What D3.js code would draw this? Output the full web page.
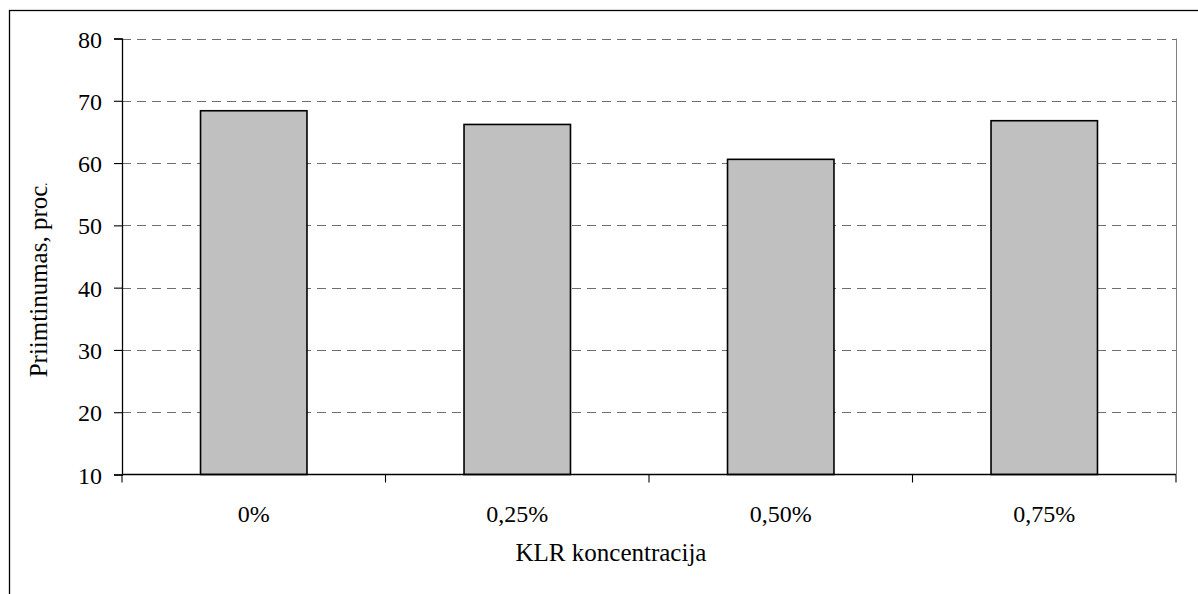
<!DOCTYPE html>
<html>
<head>
<meta charset="utf-8">
<script src="https://cdn.jsdelivr.net/npm/d3@7/dist/d3.min.js"></script>
<style>
  html, body { margin: 0; padding: 0; background: #fff; }
  svg { display: block; }
  text { font-family: "Liberation Serif", "Times New Roman", serif; fill: #000; }
</style>
</head>
<body>
<svg id="chart" width="1198" height="594"></svg>
<script>
// Acceptability by KLR concentration
const categories = ["0%", "0,25%", "0,50%", "0,75%"];
const values = [68.4, 66.2, 60.6, 66.8];
const yTicks = [10, 20, 30, 40, 50, 60, 70, 80];
const yTitle = "Priimtinumas, proc";
const xTitle = "KLR koncentracija";

const svg = d3.select("#chart");
const plot = { left: 122, right: 1176, top: 38.5, bottom: 474.5 };

// Outer chart frame
svg.append("rect")
  .attr("x", 9.5).attr("y", 10.5)
  .attr("width", 1300).attr("height", 700)
  .attr("fill", "#fff").attr("stroke", "#000").attr("stroke-width", 1.3);

const x = d3.scaleBand()
  .domain(categories)
  .range([plot.left, plot.right])
  .paddingInner(0.596)
  .paddingOuter(0.298);

const y = d3.scaleLinear()
  .domain([10, 80])
  .range([plot.bottom, plot.top]);

// Dashed horizontal gridlines
svg.append("g")
  .selectAll("line")
  .data(yTicks.filter(d => d > 10))
  .join("line")
  .attr("x1", plot.left).attr("x2", plot.right)
  .attr("y1", d => Math.round(y(d)) + 0.5).attr("y2", d => Math.round(y(d)) + 0.5)
  .attr("stroke", "#6e6e6e").attr("stroke-width", 1.1)
  .attr("stroke-dasharray", "9,6");

// Right edge of plot area
svg.append("line")
  .attr("x1", plot.right + 0.5).attr("x2", plot.right + 0.5)
  .attr("y1", plot.top).attr("y2", plot.bottom)
  .attr("stroke", "#808080").attr("stroke-width", 1);

// Bars
svg.append("g")
  .selectAll("rect")
  .data(values)
  .join("rect")
  .attr("x", (d, i) => x(categories[i]))
  .attr("y", d => y(d))
  .attr("width", x.bandwidth())
  .attr("height", d => y(10) - y(d))
  .attr("fill", "#c0c0c0")
  .attr("stroke", "#000")
  .attr("stroke-width", 1.6);

// Y axis
const yAxis = d3.axisLeft(y).tickValues(yTicks).tickSize(8).tickPadding(12).tickFormat(d3.format("d"));
const gy = svg.append("g")
  .attr("transform", `translate(${plot.left},0)`)
  .call(yAxis);
gy.select(".domain").attr("stroke", "#000").attr("stroke-width", 1.3);
gy.selectAll(".tick line").attr("stroke", "#000").attr("stroke-width", 1.1);
gy.selectAll(".tick text")
  .attr("font-family", "'Liberation Serif', 'Times New Roman', serif")
  .attr("font-size", 24)
  .attr("dy", "0.36em");

// X axis: ticks at category boundaries, labels centred in each category
const xAxisG = svg.append("g").attr("transform", `translate(0,${plot.bottom})`);
xAxisG.append("line")
  .attr("x1", plot.left).attr("x2", plot.right)
  .attr("stroke", "#000").attr("stroke-width", 1.6);
const step = x.step();
xAxisG.selectAll("line.bound")
  .data(d3.range(categories.length + 1))
  .join("line")
  .attr("class", "bound")
  .attr("x1", i => plot.left + i * step).attr("x2", i => plot.left + i * step)
  .attr("y1", 0).attr("y2", 8)
  .attr("stroke", "#000").attr("stroke-width", 1.1);
xAxisG.selectAll("text")
  .data(categories)
  .join("text")
  .attr("x", d => x(d) + x.bandwidth() / 2)
  .attr("y", 47)
  .attr("text-anchor", "middle")
  .attr("font-size", 24)
  .text(d => d);

// Axis titles
svg.append("text")
  .attr("x", 611).attr("y", 561)
  .attr("text-anchor", "middle")
  .attr("font-size", 25)
  .text(xTitle);

const yt = svg.append("text")
  .attr("transform", "translate(47,280) rotate(-90)")
  .attr("text-anchor", "middle")
  .attr("font-size", 25);
yt.append("tspan").text(yTitle);
yt.append("tspan").attr("font-size", 12).text(".");
</script>
</body>
</html>
